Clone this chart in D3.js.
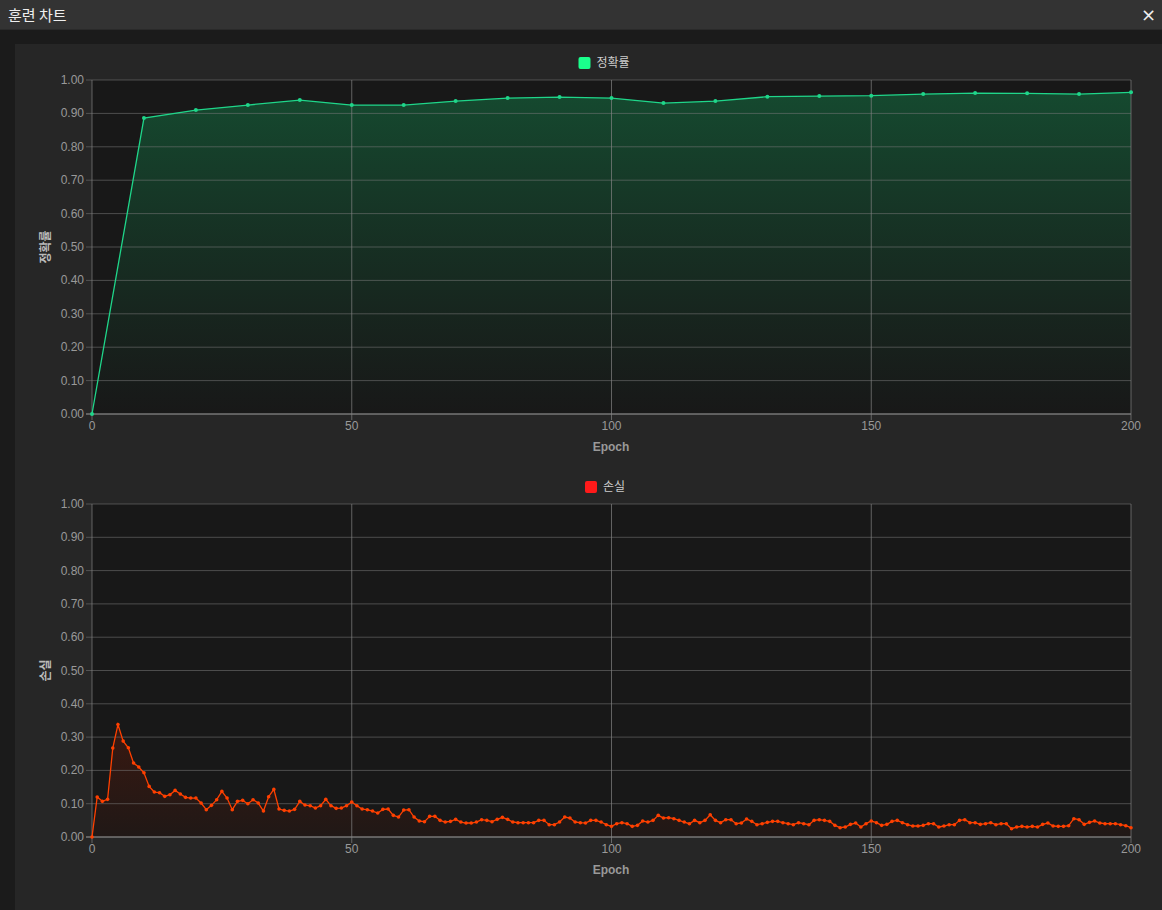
<!DOCTYPE html>
<html><head><meta charset="utf-8">
<script src="https://cdn.jsdelivr.net/npm/d3@7"></script>
<style>
body{margin:0;background:#1b1b1b;font-family:"Noto Sans CJK KR","Noto Sans",sans-serif;overflow:hidden}
#hdr{position:absolute;left:0;top:0;width:1162px;height:29px;background:#333;border-bottom:1px solid #2a2a2a;color:#eee;font-size:15px;line-height:29px}
#hdr span{position:absolute;left:8px}
#hdr b{position:absolute;right:6px;font-weight:normal;font-size:18px;font-family:"DejaVu Sans",sans-serif}
</style></head><body>
<div id="hdr"><span>훈련 차트</span><b>×</b></div>
<svg id="c" width="1162" height="910" style="position:absolute;left:0;top:0"></svg>
<script>
const accEpochs=[0,10,20,30,40,50,60,70,80,90,100,110,120,130,140,150,160,170,180,190,200];
const accValues=[0,0.886,0.91,0.925,0.94,0.925,0.925,0.937,0.946,0.949,0.946,0.931,0.937,0.95,0.952,0.953,0.958,0.961,0.96,0.958,0.963];
const lossValues=[0,0.12,0.107,0.113,0.267,0.338,0.288,0.268,0.222,0.21,0.193,0.152,0.135,0.133,0.122,0.127,0.14,0.129,0.119,0.117,
0.117,0.102,0.082,0.095,0.112,0.137,0.117,0.082,0.107,0.11,0.1,0.112,0.102,0.078,0.121,0.143,0.084,0.08,0.078,0.083,
0.107,0.096,0.094,0.087,0.094,0.113,0.094,0.086,0.087,0.094,0.105,0.094,0.084,0.082,0.078,0.072,0.083,0.084,0.065,0.06,
0.081,0.082,0.06,0.048,0.046,0.062,0.062,0.05,0.045,0.047,0.053,0.045,0.042,0.042,0.045,0.052,0.05,0.046,0.053,0.059,
0.053,0.045,0.043,0.043,0.043,0.043,0.05,0.05,0.037,0.037,0.045,0.06,0.057,0.045,0.043,0.042,0.05,0.05,0.045,0.037,
0.032,0.04,0.043,0.04,0.032,0.035,0.048,0.045,0.05,0.065,0.057,0.058,0.055,0.05,0.045,0.04,0.05,0.043,0.05,0.067,
0.05,0.043,0.052,0.052,0.04,0.042,0.054,0.047,0.037,0.04,0.044,0.047,0.047,0.043,0.04,0.037,0.043,0.04,0.037,0.05,
0.052,0.05,0.047,0.035,0.028,0.03,0.038,0.042,0.03,0.04,0.048,0.043,0.035,0.038,0.047,0.05,0.043,0.037,0.033,0.033,
0.035,0.04,0.04,0.03,0.033,0.037,0.037,0.05,0.052,0.043,0.043,0.038,0.04,0.043,0.037,0.04,0.04,0.025,0.03,0.032,
0.03,0.032,0.03,0.038,0.042,0.033,0.032,0.032,0.034,0.055,0.052,0.038,0.044,0.048,0.042,0.04,0.04,0.04,0.037,0.034,0.028];
const lossEpochs=lossValues.map((_,i)=>i);
const yTicks=[0,0.1,0.2,0.3,0.4,0.5,0.6,0.7,0.8,0.9,1.0];
const xTicks=[0,50,100,150,200];

const svg=d3.select('#c');
svg.append('rect').attr('x',15).attr('y',44).attr('width',1147).attr('height',866).attr('fill','#262626');
const defs=svg.append('defs');
function chart(top,bottom,xs,ys,label,lineCol,legCol,gradTop,gradBot,id,r){
  const x=d3.scaleLinear().domain([0,200]).range([92,1131]);
  const y=d3.scaleLinear().domain([0,1]).range([bottom,top]);
  const g=svg.append('g');
  g.append('rect').attr('x',92).attr('y',top).attr('width',1039).attr('height',bottom-top).attr('fill','#181818');
  const gr=defs.append('linearGradient').attr('id',id).attr('x1',0).attr('y1',0).attr('x2',0).attr('y2',1);
  gr.append('stop').attr('offset','0%').attr('stop-color',gradTop);
  gr.append('stop').attr('offset','100%').attr('stop-color',gradBot);
  const pts=xs.map((e,i)=>[e,ys[i]]);
  g.append('path').datum(pts).attr('fill',`url(#${id})`).attr('d',d3.area().x(d=>x(d[0])).y0(bottom).y1(d=>y(d[1])));
  g.selectAll('.hg').data(yTicks).join('line').attr('x1',86).attr('x2',1131).attr('y1',d=>y(d)).attr('y2',d=>y(d)).attr('stroke','rgba(120,120,120,0.55)');
  g.selectAll('.vg').data(xTicks).join('line').attr('x1',d=>x(d)).attr('x2',d=>x(d)).attr('y1',top).attr('y2',bottom+6).attr('stroke','rgba(130,130,130,0.7)');
  g.append('line').attr('x1',86).attr('x2',1131).attr('y1',bottom).attr('y2',bottom).attr('stroke','#888');
  g.append('path').datum(pts).attr('fill','none').attr('stroke',lineCol).attr('stroke-width',1.3).attr('d',d3.line().x(d=>x(d[0])).y(d=>y(d[1])));
  g.selectAll('.pt').data(pts).join('circle').attr('cx',d=>x(d[0])).attr('cy',d=>y(d[1])).attr('r',r).attr('fill',lineCol);
  g.selectAll('.yl').data(yTicks).join('text').attr('x',84).attr('y',d=>y(d)+4).attr('text-anchor','end').attr('fill','#999').attr('font-size',12).attr('font-family','Arial,Liberation Sans,sans-serif').text(d=>d.toFixed(2));
  g.selectAll('.xl').data(xTicks).join('text').attr('x',d=>x(d)).attr('y',bottom+16).attr('text-anchor','middle').attr('fill','#999').attr('font-size',12).attr('font-family','Arial,Liberation Sans,sans-serif').text(d=>d);
  g.append('text').attr('x',611).attr('y',bottom+37).attr('text-anchor','middle').attr('fill','#999').attr('font-size',12).attr('font-weight','bold').attr('font-family','Arial,Liberation Sans,sans-serif').text('Epoch');
  g.append('text').attr('transform',`translate(50,${(top+bottom)/2}) rotate(-90)`).attr('text-anchor','middle').attr('fill','#bbb').attr('font-size',12).attr('font-weight','bold').text(label);
  const lw=label.length*13+18;
  const lx=611-lw/2-4;
  g.append('rect').attr('x',lx).attr('y',top-23).attr('width',12).attr('height',12).attr('rx',2).attr('fill',legCol);
  g.append('text').attr('x',lx+18).attr('y',top-13).attr('fill','#ccc').attr('font-size',12).text(label);
}
chart(80,414,accEpochs,accValues,'정확률','#1fd68a','#1aff8c','rgba(20,90,55,0.75)','rgba(24,24,24,0.6)','ga',2);
chart(504,837,lossEpochs,lossValues,'손실','#ff4000','#ff1a1a','rgba(90,25,10,0.5)','rgba(40,24,20,0.5)','gl',1.8);
</script></body></html>
